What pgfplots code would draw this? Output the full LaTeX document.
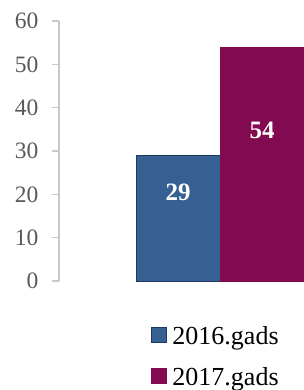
\documentclass[border=0pt]{standalone}
\usepackage{fontspec}
\setmainfont{Liberation Serif}
\usepackage{pgfplots}
\pgfplotsset{compat=1.18}
\definecolor{barblue}{HTML}{376092}
\definecolor{barblueedge}{HTML}{1F3A60}
\definecolor{barmag}{HTML}{820A50}
\definecolor{axgray}{HTML}{C8C8C8}
\definecolor{txtgray}{HTML}{595959}
\pgfplotsset{sqlegend/.style={legend image code/.code={\path (0pt,-6.5pt) (0pt,11.5pt); \draw[##1, line width=0.8pt] (0.4pt,-3.1pt) rectangle (14.6pt,11.1pt);}}}
\begin{document}
\begin{tikzpicture}
\path[use as bounding box] (-59pt,-109pt) rectangle (244pt,281pt);
\begin{axis}[
  anchor=south west, at={(0pt,0pt)},
  /pgf/number format/assume math mode=true,
  scale only axis, width=244pt, height=260pt,
  xmin=-161, xmax=83, ymin=0, ymax=60,
  ybar=0pt, bar width=84,
  axis y line*=left, axis x line=none,
  ytick={0,10,...,60}, xtick=\empty,
  tick align=outside, major tick length=7pt,
  y axis line style={axgray, line width=1.2pt, -},
  ytick style={axgray, line width=1.2pt},
  yticklabel style={font=\fontsize{23.5}{26}\selectfont, text=txtgray, xshift=-10pt},
  clip=false,
  legend style={at={(0.3770,-0.1769)}, anchor=north west, draw=none, fill=none, inner sep=0pt, outer sep=0pt,
    nodes={inner sep=0pt, font=\fontsize{26}{30}\selectfont, text height=18pt, text depth=6pt},
    row sep=17pt,
    /tikz/every odd column/.style={column sep=6pt}},
  legend cell align=left,
]
\addplot[fill=barblue, draw=barblueedge, line width=1pt, sqlegend,
  nodes near coords,
  every node near coord/.append style={anchor=center, yshift=-37pt, font=\fontsize{25}{30}\selectfont\bfseries, text=white}]
  coordinates {(0,29)};
\addlegendentry{2016.gads}
\addplot[fill=barmag, draw=barmag, line width=1pt, sqlegend,
  nodes near coords,
  every node near coord/.append style={anchor=center, yshift=-83pt, font=\fontsize{25}{30}\selectfont\bfseries, text=white}]
  coordinates {(0,54)};
\addlegendentry{2017.gads}
\end{axis}
\end{tikzpicture}
\end{document}
